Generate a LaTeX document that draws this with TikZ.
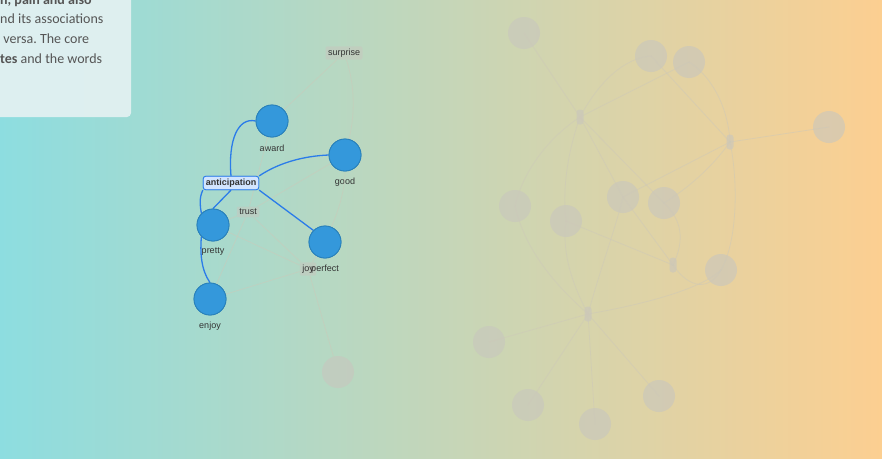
\documentclass[tikz,border=0pt]{standalone}
\usepackage{fontspec}
\setmainfont{Liberation Sans}
\newfontfamily\boxfont{Carlito}
\frenchspacing
\begin{document}
\begin{tikzpicture}[x=1pt,y=-1pt,
  word/.style={circle,minimum size=32pt,inner sep=0pt,fill=wfill,draw=wdraw,line width=0.8pt},
  ghost/.style={circle,minimum size=32pt,inner sep=0pt,fill=gfill,fill opacity=0.6},
  pill/.style={rounded corners=3pt,minimum width=7pt,minimum height=15pt,inner sep=0pt,fill=gfill,fill opacity=0.6},
  gbox/.style={rounded corners=2pt,inner sep=2.5pt,fill=gfill,fill opacity=0.5,text opacity=1,text=labtext,font=\fontsize{9}{10}\selectfont},
  lab/.style={text=labtext,font=\fontsize{9}{10}\selectfont,inner sep=0pt},
  hub/.style={rounded corners=2.5pt,draw=edgeblue,fill=hubfill,line width=0.8pt,inner sep=2.5pt,text=labtext,font=\fontsize{9}{10}\selectfont\bfseries},
  bedge/.style={draw=edgeblue,line width=1.3pt},
  fedge/.style={draw=fcol,line width=0.8pt,opacity=0.5},
  btext/.style={anchor=base west,inner sep=0pt,text=boxtext,font=\boxfont\fontsize{14}{15}\selectfont}
]
\definecolor{bgleft}{RGB}{141,221,224}
\definecolor{bgright}{RGB}{252,207,145}
\definecolor{wfill}{RGB}{52,152,219}
\definecolor{wdraw}{RGB}{41,128,185}
\definecolor{gfill}{RGB}{200,198,190}
\definecolor{fcol}{RGB}{205,200,185}
\definecolor{edgeblue}{RGB}{43,124,233}
\definecolor{hubfill}{RGB}{210,229,255}
\definecolor{labtext}{RGB}{51,51,51}
\definecolor{boxtext}{RGB}{85,85,85}
\definecolor{panel}{RGB}{228,241,242}

\useasboundingbox (0,0) rectangle (882,458);
\shade[left color=bgleft,right color=bgright] (0,0) rectangle (882,458);

% ghost nodes (right cluster)
\node[ghost] (g1) at (524,33) {};
\node[ghost] (g2) at (651,56) {};
\node[ghost] (g3) at (689,62) {};
\node[ghost] (g4) at (829,127) {};
\node[ghost] (g5) at (515,206) {};
\node[ghost] (g6) at (566,221) {};
\node[ghost] (g7) at (623,197) {};
\node[ghost] (g8) at (664,203) {};
\node[ghost] (g9) at (721,270) {};
\node[ghost] (g10) at (489,342) {};
\node[ghost] (g11) at (528,405) {};
\node[ghost] (g12) at (595,424) {};
\node[ghost] (g13) at (659,396) {};
\node[ghost] (g14) at (338,372) {};
\node[pill] (p1) at (580,117) {};
\node[pill] (p2) at (730,142) {};
\node[pill] (p3) at (673,265) {};
\node[pill] (p4) at (588,314) {};

% faint edges right
\draw[fedge] (p1.center) -- (g1.center);
\draw[fedge] (p1.center) .. controls (600,80) and (625,58) .. (g2.center);
\draw[fedge] (p1.center) -- (g3.center);
\draw[fedge] (p1.center) .. controls (545,140) and (522,175) .. (g5.center);
\draw[fedge] (p1.center) .. controls (565,160) and (563,195) .. (g6.center);
\draw[fedge] (p1.center) -- (g7.center);
\draw[fedge] (p1.center) -- (g8.center);
\draw[fedge] (p2.center) -- (g2.center);
\draw[fedge] (p2.center) .. controls (728,105) and (710,75) .. (g3.center);
\draw[fedge] (p2.center) -- (g4.center);
\draw[fedge] (p2.center) -- (g7.center);
\draw[fedge] (p2.center) .. controls (710,170) and (685,190) .. (g8.center);
\draw[fedge] (p2.center) .. controls (738,180) and (738,240) .. (g9.center);
\draw[fedge] (p3.center) -- (g6.center);
\draw[fedge] (p3.center) .. controls (690,290) and (710,290) .. (g9.center);
\draw[fedge] (p3.center) .. controls (685,240) and (682,220) .. (g8.center);
\draw[fedge] (p3.center) -- (g7.center);
\draw[fedge] (p4.center) -- (g10.center);
\draw[fedge] (p4.center) -- (g11.center);
\draw[fedge] (p4.center) -- (g12.center);
\draw[fedge] (p4.center) -- (g13.center);
\draw[fedge] (p4.center) .. controls (570,280) and (562,250) .. (g6.center);
\draw[fedge] (p4.center) .. controls (555,285) and (525,250) .. (g5.center);
\draw[fedge] (p4.center) .. controls (600,270) and (615,230) .. (g7.center);
\draw[fedge] (p4.center) .. controls (640,305) and (700,290) .. (g9.center);

% left cluster nodes
\node[word] (award) at (272,121) {};
\node[word] (good) at (345,155) {};
\node[word] (pretty) at (213,225) {};
\node[word] (jp) at (325,242) {};
\node[word] (enjoy) at (210,299) {};
\node[lab] (lawar) at (272,148) {award};
\node[lab] (lgood) at (345,182) {good};
\node[lab] (lenj) at (210,326) {enjoy};

\node[gbox] (surprise) at (344,53) {surprise};
\node[gbox] (trust) at (248,212) {trust};
\node[gbox] (joy) at (308,269) {joy};
\node[lab] (lperf) at (325,269) {perfect};

% faint edges left
\draw[fedge] (surprise) .. controls (355,85) and (355,115) .. (good);
\draw[fedge] (surprise) -- (award);
\draw[fedge] (trust) -- (award);
\draw[fedge] (trust) -- (good);
\draw[fedge] (trust) -- (pretty);
\draw[fedge] (trust) -- (enjoy);
\draw[fedge] (trust) -- (joy);
\draw[fedge] (joy) .. controls (330,235) and (345,200) .. (good);
\draw[fedge] (joy) -- (pretty);
\draw[fedge] (joy) -- (enjoy);
\draw[fedge] (joy) -- (g14);

% hub
\node[hub] (ant) at (231,183) {anticipation};

% blue edges
\draw[bedge] (ant.north) .. controls (228,140) and (238,117) .. (award.west);
\draw[bedge] (ant.north east) .. controls (280,162) and (305,156) .. (good.west);
\draw[bedge] (ant.south east) -- (jp.north west);
\draw[bedge] (ant.south) -- (pretty.north);
\draw[bedge] (ant.south west) .. controls (199,198) and (200,206) .. (pretty.north west);
\draw[bedge] (pretty.south west) .. controls (200,252) and (201,270) .. (enjoy.north);
\node[word] at (award) {};
\node[word] at (good) {};
\node[word] at (pretty) {};
\node[word] at (jp) {};
\node[word] at (enjoy) {};
\node[hub] at (ant) {anticipation};
\node[lab] (lpret) at (213,252) {pretty};

% text panel
\fill[panel,fill opacity=0.92,rounded corners=4pt] (-10,-10) rectangle (131,117);
\node[btext] (t1) at (0,4) {\bfseries n, pain and also};
\node[btext] (t2) at (0,23.5) {nd its associations};
\node[btext] (t3) at (0,43) {\ versa. The core};
\node[btext] (t4) at (0,63) {\textbf{tes} and the words};
\end{tikzpicture}
\end{document}
